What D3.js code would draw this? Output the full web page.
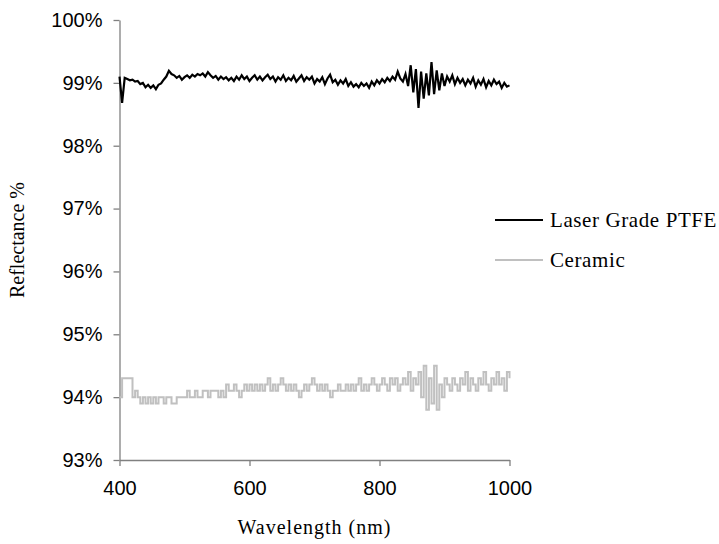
<!DOCTYPE html>
<html>
<head>
<meta charset="utf-8">
<script src="https://cdn.jsdelivr.net/npm/d3@7"></script>
<style>
  html, body { margin: 0; padding: 0; background: #fff; }
  svg { display: block; }
</style>
</head>
<body>
<svg id="chart" width="719" height="544"></svg>
<script>
// Spectral reflectance, sampled every 4 nm from 400 to 1000 nm
const wlStart = 400;
const wlStep = 4;

const seriesNames = ["Laser Grade PTFE", "Ceramic"];
const seriesColors = ["#000000", "#c0c0c0"];

const ptfe = [
  99.10, 98.68, 99.08, 99.06, 99.04, 99.05, 99.02, 99.03, 98.98, 99.00,
  98.93, 98.97, 98.92, 98.96, 98.90, 98.97, 98.99, 99.05, 99.10, 99.19,
  99.14, 99.12, 99.08, 99.11, 99.05, 99.09, 99.12, 99.08, 99.13, 99.10,
  99.14, 99.12, 99.15, 99.10, 99.17, 99.12, 99.08, 99.11, 99.05, 99.10,
  99.06, 99.09, 99.04, 99.08, 99.03, 99.10, 99.05, 99.12, 99.06, 99.10,
  99.03, 99.08, 99.12, 99.05, 99.10, 99.04, 99.09, 99.13, 99.06, 99.10,
  99.02, 99.09, 99.05, 99.12, 99.03, 99.08, 99.04, 99.11, 99.02, 99.07,
  99.12, 99.03, 99.09, 99.05, 99.10, 98.99, 99.06, 99.02, 99.09, 98.98,
  99.07, 99.13, 99.01, 99.05, 98.97, 99.04, 98.99, 99.06, 98.95, 99.01,
  98.94, 98.98, 98.93, 99.00, 98.95, 98.99, 98.92, 99.02, 98.96, 99.04,
  98.99, 99.06, 99.01, 99.08, 99.03, 99.10, 99.05, 99.18, 99.07, 99.02,
  99.14, 98.95, 99.28, 98.85, 99.22, 98.60, 99.18, 98.75, 99.15, 98.80,
  99.33, 98.82, 99.20, 98.88, 99.15, 98.95, 99.10, 99.02, 99.12, 98.98,
  99.08, 99.00, 99.06, 98.96, 99.05, 98.99, 99.08, 98.94, 99.04, 98.97,
  99.06, 98.93, 99.03, 98.96, 99.05, 98.98, 99.02, 98.92, 99.00, 98.94,
  98.96
];

const ceramic = [
  94.0, 94.3, 94.3, 94.3, 94.3, 94.0, 94.1, 94.0, 93.9, 94.0,
  93.9, 94.0, 93.9, 94.0, 93.9, 94.0, 94.0, 93.9, 94.0, 94.0,
  93.9, 93.9, 94.0, 94.0, 94.0, 94.0, 94.1, 94.0, 94.0, 94.1,
  94.0, 94.0, 94.1, 94.1, 94.0, 94.1, 94.1, 94.1, 94.0, 94.1,
  94.0, 94.2, 94.1, 94.1, 94.2, 94.1, 94.0, 94.1, 94.2, 94.1,
  94.2, 94.1, 94.2, 94.1, 94.2, 94.1, 94.2, 94.3, 94.1, 94.2,
  94.1, 94.2, 94.3, 94.2, 94.1, 94.2, 94.1, 94.2, 94.1, 94.0,
  94.1, 94.2, 94.1, 94.2, 94.3, 94.2, 94.1, 94.2, 94.1, 94.2,
  94.1, 94.0, 94.1, 94.1, 94.2, 94.1, 94.1, 94.2, 94.1, 94.2,
  94.1, 94.2, 94.3, 94.1, 94.2, 94.1, 94.2, 94.3, 94.2, 94.1,
  94.2, 94.3, 94.2, 94.1, 94.3, 94.2, 94.3, 94.1, 94.2, 94.3,
  94.2, 94.4, 94.1, 94.3, 94.2, 94.4, 94.0, 94.5, 93.8, 94.3,
  93.9, 94.5, 93.8, 94.2, 94.0, 94.3, 94.2, 94.1, 94.3, 94.2,
  94.1, 94.3, 94.2, 94.4, 94.1, 94.3, 94.2, 94.1, 94.3, 94.2,
  94.4, 94.2, 94.1, 94.3, 94.2, 94.4, 94.2, 94.3, 94.1, 94.4,
  94.3
];

const xTicks = [400, 600, 800, 1000];
const yTicks = [93, 94, 95, 96, 97, 98, 99, 100];
const xTitle = "Wavelength (nm)";
const yTitle = "Reflectance %";

const svg = d3.select("#chart");
const plot = { left: 119.5, right: 509.5, top: 20, bottom: 460 };

const x = d3.scaleLinear().domain([400, 1000]).range([plot.left, plot.right]);
const y = d3.scaleLinear().domain([93, 100]).range([plot.bottom, plot.top]);

const axisColor = "#808080";
const sansFont = "'Liberation Sans', Arial, sans-serif";
const serifFont = "'Liberation Serif', 'Times New Roman', serif";

// Axes
const xAxis = svg.append("g")
  .attr("transform", `translate(0,${plot.bottom})`)
  .call(d3.axisBottom(x).tickValues(xTicks).tickSize(6).tickSizeOuter(0).tickPadding(15).tickFormat(d3.format("d")));
const yAxis = svg.append("g")
  .attr("transform", `translate(${plot.left},0)`)
  .call(d3.axisLeft(y).tickValues(yTicks).tickSize(6).tickSizeOuter(0).tickPadding(11).tickFormat(d => d + "%"));

[xAxis, yAxis].forEach(g => {
  g.select(".domain").attr("stroke", axisColor).attr("stroke-width", 1.3);
  g.selectAll(".tick line").attr("stroke", axisColor).attr("stroke-width", 1.3);
  g.selectAll(".tick text")
    .attr("fill", "#000")
    .style("font-family", sansFont)
    .style("font-size", "20px");
});

// Series lines
const ptfeLine = d3.line()
  .x((d, i) => x(wlStart + i * wlStep))
  .y(d => y(d));
const ceramicLine = d3.line()
  .curve(d3.curveStepAfter)
  .x((d, i) => x(wlStart + i * wlStep))
  .y(d => y(d));

svg.append("path")
  .datum(ceramic)
  .attr("d", ceramicLine)
  .attr("fill", "none")
  .attr("stroke", seriesColors[1])
  .attr("stroke-width", 2);

svg.append("path")
  .datum(ptfe)
  .attr("d", ptfeLine)
  .attr("fill", "none")
  .attr("stroke", seriesColors[0])
  .attr("stroke-width", 2.2);

// Axis titles
svg.append("text")
  .attr("x", (plot.left + plot.right) / 2)
  .attr("y", 534)
  .attr("text-anchor", "middle")
  .style("font-family", serifFont)
  .style("font-size", "20px")
  .style("letter-spacing", "1px")
  .text(xTitle);

svg.append("text")
  .attr("transform", `translate(24,${(plot.top + plot.bottom) / 2}) rotate(-90)`)
  .attr("text-anchor", "middle")
  .style("font-family", serifFont)
  .style("font-size", "20px")
  .text(yTitle);

// Legend
const legend = svg.append("g");
seriesNames.forEach((name, i) => {
  const ly = 220 + i * 40;
  legend.append("line")
    .attr("x1", 495).attr("x2", 543)
    .attr("y1", ly).attr("y2", ly)
    .attr("stroke", seriesColors[i])
    .attr("stroke-width", 2);
  legend.append("text")
    .attr("x", 550)
    .attr("y", ly + 7)
    .style("font-family", serifFont)
    .style("font-size", "21px")
    .style("letter-spacing", "0.6px")
    .text(name);
});
</script>
</body>
</html>
